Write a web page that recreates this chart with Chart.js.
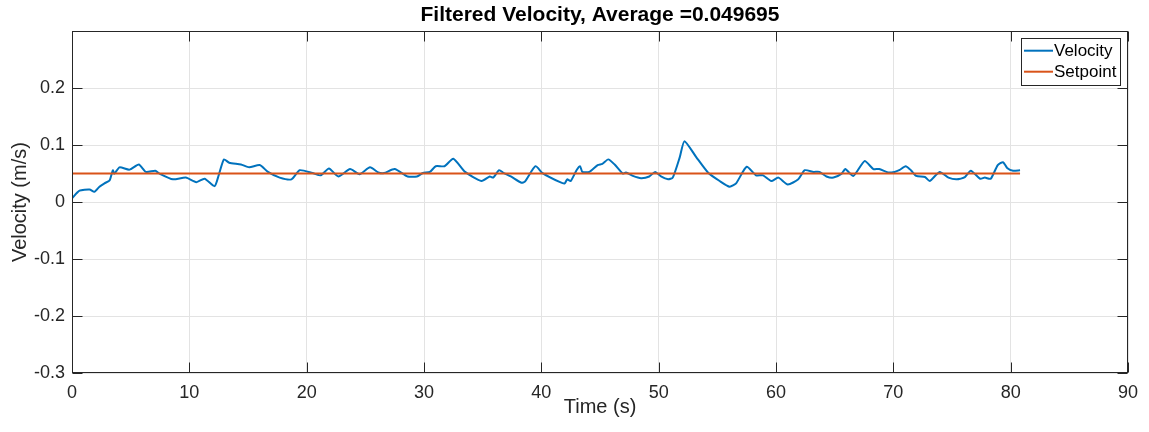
<!doctype html>
<html lang="en">
 <head>
  <meta charset="utf-8">
  <title>Filtered Velocity</title>
  <style>
body { margin: 0; background: #fff; }
#wrap { width: 1149px; height: 432px; }
  </style>
 </head>
 <body>
  <div id="wrap"><canvas id="velchart"></canvas></div>

  <script src="https://cdn.jsdelivr.net/npm/chart.js@4.4.1/dist/chart.umd.min.js"></script>
  <script>
// values
var timeS = [0, 0.64, 1.5, 1.9, 2.34, 2.77, 3.2, 3.48, 3.6, 4.05, 4.9, 5.7, 6.3, 7.1, 7.46, 8.6, 9.7, 10.6, 11.3, 12.15,
  12.5, 12.95, 13.4, 14.4, 15.1, 16.0, 16.7, 17.7, 18.7, 19.4, 20.5, 21.2, 21.9, 22.7, 23.7, 24.5, 25.4, 26.1, 26.6, 27.5,
  28.6, 29.4, 29.9, 30.5, 31.0, 31.75, 32.5, 33.5, 34.9, 35.6, 35.9, 36.4, 36.8, 37.4, 38.3, 38.6, 39.5, 40.1, 41.6, 42.0,
  42.2, 42.5, 43.0, 43.3, 43.5, 44.1, 44.8, 45.2, 45.7, 46.25, 46.95, 47.2, 47.8, 48.5, 49.2, 49.7, 50.2, 50.8, 51.2, 51.8,
  52.2, 53.2, 54.2, 55.2, 56.05, 56.6, 57.5, 58.3, 58.9, 59.6, 60.2, 61.0, 61.9, 62.45, 63.2, 63.7, 64.3, 64.9, 65.6, 65.9,
  66.6, 67.55, 68.3, 68.8, 69.55, 70.1, 70.5, 71.05, 71.5, 71.95, 72.7, 73.1, 73.95, 74.7, 75.4, 76.1, 76.6, 77.4, 77.8, 78.3,
  78.9, 79.35, 79.7, 80.2, 80.8];
var velocity = [0.0065, 0.020, 0.022, 0.018, 0.027, 0.033, 0.038, 0.056, 0.050, 0.061, 0.057, 0.066, 0.053, 0.055, 0.050, 0.040, 0.043, 0.035, 0.041, 0.028,
  0.047, 0.075, 0.069, 0.066, 0.061, 0.065, 0.053, 0.043, 0.040, 0.056, 0.051, 0.047, 0.059, 0.045, 0.058, 0.049, 0.061, 0.052, 0.051, 0.058,
  0.045, 0.045, 0.051, 0.053, 0.063, 0.063, 0.076, 0.053, 0.037, 0.045, 0.043, 0.056, 0.051, 0.045, 0.034, 0.036, 0.063, 0.051, 0.035, 0.033,
  0.040, 0.037, 0.056, 0.063, 0.053, 0.053, 0.065, 0.067, 0.075, 0.066, 0.050, 0.052, 0.046, 0.042, 0.045, 0.053, 0.045, 0.040, 0.043, 0.079,
  0.107, 0.079, 0.052, 0.037, 0.027, 0.033, 0.062, 0.047, 0.047, 0.037, 0.043, 0.031, 0.040, 0.056, 0.053, 0.053, 0.045, 0.043, 0.050, 0.058,
  0.046, 0.072, 0.058, 0.058, 0.052, 0.053, 0.056, 0.063, 0.056, 0.046, 0.044, 0.037, 0.053, 0.043, 0.040, 0.044, 0.055, 0.041, 0.043, 0.041,
  0.065, 0.070, 0.060, 0.055, 0.056];
var setpointTime = [0, 80.8];
var setpointValue = [0.05, 0.05];

var xTicks = [0, 10, 20, 30, 40, 50, 60, 70, 80, 90];
var yTicks = [-0.3, -0.2, -0.1, 0, 0.1, 0.2];

var chartTitle = 'Filtered Velocity, Average =0.049695';
var xLabel = 'Time (s)';
var yLabel = 'Velocity (m/s)';

const FONT = "'Liberation Sans', Arial, Helvetica, sans-serif";
const AXIS = '#262626';
const BLUE = '#0072BD';
const ORANGE = '#D95319';

function toPoints(xs, ys) {
  return xs.map(function (x, i) { return {x: x, y: ys[i]}; });
}

// matlab style box, inward ticks and the legend
const boxPlugin = {
  id: 'matlabBox',
  afterDatasetsDraw(chart) {
    const ctx = chart.ctx;
    const a = chart.chartArea;
    const sx = chart.scales.x, sy = chart.scales.y;
    const L = Math.round(a.left) + 0.5, R = Math.round(a.right) - 0.5;
    const T = Math.round(a.top) + 0.5, B = Math.round(a.bottom) - 0.5;
    ctx.save();
    ctx.strokeStyle = AXIS;
    ctx.lineWidth = 1;
    ctx.strokeRect(L, T, R - L, B - T);
    ctx.beginPath();
    xTicks.forEach(function (v) {
      const px = Math.round(sx.getPixelForValue(v)) + 0.5;
      ctx.moveTo(px, B); ctx.lineTo(px, B - 10);
      ctx.moveTo(px, T); ctx.lineTo(px, T + 10);
    });
    yTicks.concat([0.3]).forEach(function (v) {
      const py = Math.round(sy.getPixelForValue(v)) + 0.5;
      ctx.moveTo(L, py); ctx.lineTo(L + 10, py);
      ctx.moveTo(R, py); ctx.lineTo(R - 10, py);
    });
    ctx.stroke();

    // legend
    const lx = a.right - 107, ly = a.top + 7, lw = 99, lh = 47;
    ctx.fillStyle = '#fff';
    ctx.fillRect(lx, ly, lw, lh);
    ctx.strokeStyle = AXIS;
    ctx.strokeRect(Math.round(lx) + 0.5, Math.round(ly) + 0.5, lw, lh);
    ctx.font = '17px ' + FONT;
    ctx.textBaseline = 'middle';
    ctx.textAlign = 'left';
    chart.data.datasets.slice().reverse().forEach(function (ds, i) {
      const y = ly + 12.5 + i * 21;
      ctx.strokeStyle = ds.borderColor;
      ctx.lineWidth = 2;
      ctx.beginPath();
      ctx.moveTo(lx + 3, y); ctx.lineTo(lx + 32, y);
      ctx.stroke();
      ctx.fillStyle = '#000';
      ctx.fillText(ds.label, lx + 33, y + 1);
    });
    ctx.restore();
  }
};

const velChart = new Chart(document.getElementById('velchart'), {
  type: 'line',
  data: {
    datasets: [
      {
        label: 'Setpoint',
        data: toPoints(setpointTime, setpointValue),
        borderColor: ORANGE,
        borderWidth: 2,
        pointRadius: 0,
        order: 0
      },
      {
        label: 'Velocity',
        data: toPoints(timeS, velocity),
        borderColor: BLUE,
        borderWidth: 2,
        pointRadius: 0,
        tension: 0.2,
        order: 1
      }
    ]
  },
  options: {
    animation: false,
    responsive: true,
    maintainAspectRatio: false,
    events: [],
    layout: { padding: { left: 0, right: 21, top: 0, bottom: 0 } },
    scales: {
      x: {
        type: 'linear',
        min: 0,
        max: 90,
        afterFit: function (s) { s.height = 59; },
        afterBuildTicks: function (s) { s.ticks = xTicks.map(function (v) { return {value: v}; }); },
        ticks: { autoSkip: false, maxRotation: 0, padding: 9, color: AXIS, font: { family: FONT, size: 18 } },
        grid: { color: '#e3e3e3', drawTicks: false },
        border: { display: false },
        title: { display: true, text: xLabel, color: AXIS, font: { family: FONT, size: 20 }, padding: { top: 0, bottom: 13 } }
      },
      y: {
        type: 'linear',
        min: -0.3,
        max: 0.3,
        afterFit: function (s) { s.width = 72; },
        afterBuildTicks: function (s) { s.ticks = yTicks.concat([0.3]).map(function (v) { return {value: v}; }); },
        ticks: {
          autoSkip: false, padding: 7, color: AXIS, font: { family: FONT, size: 18 },
          callback: function (v) {
            var r = Math.round(v * 10) / 10;
            return r >= 0.3 ? '' : String(r);
          }
        },
        grid: { color: '#e3e3e3', drawTicks: false },
        border: { display: false },
        title: { display: true, text: yLabel, color: AXIS, font: { family: FONT, size: 20 }, padding: { top: 8, bottom: 0 } }
      }
    },
    plugins: {
      legend: { display: false },
      tooltip: { enabled: false },
      title: {
        display: true,
        fullSize: false,
        text: chartTitle,
        color: '#000',
        font: { family: FONT, size: 21, weight: 'bold' },
        padding: { top: 3, bottom: 3 }
      }
    }
  },
  plugins: [boxPlugin]
});
  </script>
 </body>
</html>
